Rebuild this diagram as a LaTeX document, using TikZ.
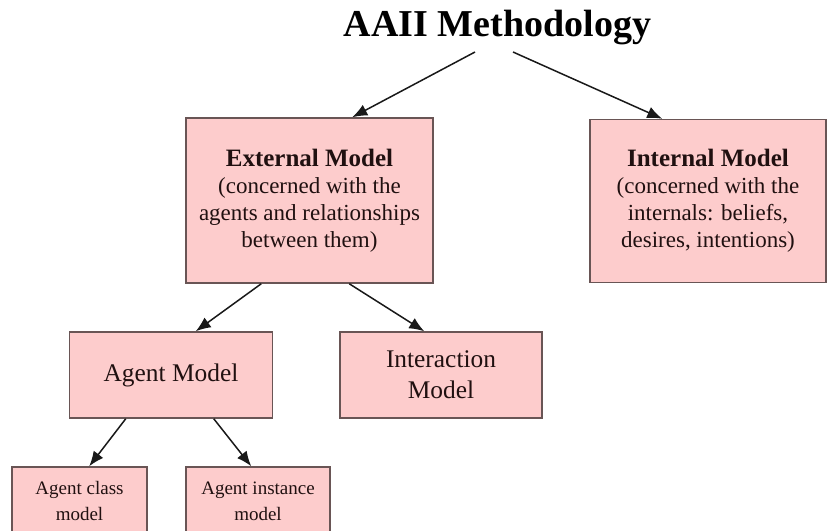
\documentclass[tikz,border=0pt]{standalone}
\usepackage{fontspec}
\setmainfont{Liberation Serif}
\usetikzlibrary{arrows.meta,calc}
\definecolor{boxfill}{RGB}{253,204,204}
\definecolor{boxline}{RGB}{105,85,85}
\definecolor{boxtext}{RGB}{32,16,16}
\tikzset{
  modelbox/.style={draw=boxline, fill=boxfill, line width=1.5pt, rectangle,
    align=center, text=boxtext, inner sep=0pt},
  link/.style={draw=black!90, line width=1.5pt, -{Latex[length=15pt,width=12pt]}}
}
\begin{document}
\begin{tikzpicture}[x=1pt,y=1pt]
\useasboundingbox[fill=white] (0,0) rectangle (829,-530);

% title
\node[anchor=base, font=\fontsize{38}{42}\selectfont\bfseries] (title) at (497.5,-36) {AAII Methodology};

% first level
\node[modelbox, minimum width=247pt, minimum height=165pt,
      font=\fontsize{23}{27}\selectfont] (ext) at (309.5,-200.5)
  {{\fontsize{25}{27}\selectfont\bfseries External Model}\\(concerned with the\\agents and relationships\\between them)};
\node[modelbox, minimum width=236pt, minimum height=163pt,
      font=\fontsize{23}{27}\selectfont] (int) at (708,-201)
  {{\fontsize{25}{27}\selectfont\bfseries Internal Model}\\(concerned with the\\internals: beliefs,\\desires, intentions)};

% second level
\node[modelbox, minimum width=203pt, minimum height=86pt,
      font=\fontsize{25.4}{31}\selectfont] (agent) at (171,-375) {Agent Model};
\node[modelbox, minimum width=202pt, minimum height=86pt,
      font=\fontsize{25.4}{31}\selectfont] (inter) at (441,-375) {Interaction\\Model};

% third level
\node[modelbox, minimum width=135pt, minimum height=68pt,
      font=\fontsize{19}{26}\selectfont] (cls) at (79.5,-501) {Agent class\\model};
\node[modelbox, minimum width=144pt, minimum height=68pt,
      font=\fontsize{19}{26}\selectfont] (inst) at (258,-501) {Agent instance\\model};

% connectors
\draw[link] ($(title.base)+(-22.5,-16)$) -- ($(ext.north west)+(167,0)$);
\draw[link] ($(title.base)+(15.5,-16)$) -- ($(int.north west)+(73,0)$);
\draw[link] ($(ext.south west)+(76,0)$) -- ($(agent.north west)+(127,0)$);
\draw[link] ($(ext.south west)+(164,0)$) -- ($(inter.north west)+(85,0)$);
\draw[link] ($(agent.south west)+(57,0)$) -- ($(cls.north west)+(78,0)$);
\draw[link] ($(agent.south west)+(145,0)$) -- ($(inst.north west)+(66,0)$);
\end{tikzpicture}
\end{document}
